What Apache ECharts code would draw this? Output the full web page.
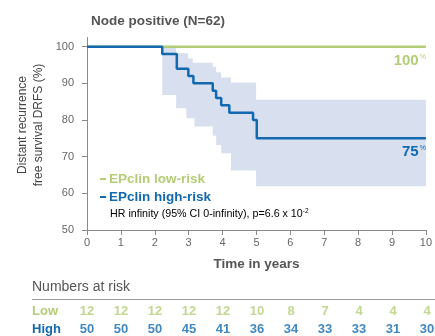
<!DOCTYPE html>
<html>
<head>
<meta charset="utf-8">
<script src="https://cdn.jsdelivr.net/npm/echarts@6/dist/echarts.min.js"></script>
<style>
  html, body { margin: 0; padding: 0; background: #fff; }
  #chart { width: 435px; height: 336px; }
</style>
</head>
<body>
<div id="chart"></div>
<script>
// Kaplan-Meier estimates, node positive cohort
const highRiskTimes = [0, 2.22, 2.65, 2.99, 3.14, 3.71, 3.81, 3.96, 4.2, 4.9, 5.01, 10];
const highRisk = [100, 98, 94, 92, 90, 88, 86, 84, 82, 80, 75, 75];
const lowRiskTimes = [0, 10];
const lowRisk = [100, 100];

// 95% confidence band of the high-risk curve
const ciUpperTimes = [2.22, 2.63, 2.98, 3.12, 3.71, 3.81, 3.96, 4.25, 4.99, 10];
const ciUpper = [100, 98.2, 96.8, 95.6, 94.5, 93, 91.6, 90.2, 85.5, 85.5];
const ciLowerTimes = [2.22, 2.63, 2.93, 3.17, 3.71, 3.81, 3.96, 4.25, 4.99, 10];
const ciLower = [86.8, 83.2, 80.5, 78.2, 75.7, 73.2, 70.9, 66.2, 61.9, 61.9];

// Numbers at risk table
const riskYears = [0, 1, 2, 3, 4, 5, 6, 7, 8, 9, 10];
const lowAtRisk = [12, 12, 12, 12, 12, 10, 8, 7, 4, 4, 4];
const highAtRisk = [50, 50, 50, 45, 41, 36, 34, 33, 33, 31, 30];
const riskRows = ['Low', 'High'];

const yTicks = [50, 60, 70, 80, 90, 100];

const GREEN = '#b3cd76';
const BLUE = '#1269b0';
const BAND = '#d8dfee';
const GREY = '#555';
const AXIS = '#8a8a8a';
const FONT = '"Liberation Sans", Arial, sans-serif';

function zip(xs, ys) { return xs.map((x, i) => [x, ys[i]]); }

// percentage printed under the right end of a curve
function endLabel(color) {
  return {
    show: true,
    distance: 0,
    align: 'right',
    verticalAlign: 'middle',
    offset: [0, 14],
    formatter: p => '{v|' + p.value[1] + '}{p|%}',
    rich: {
      v: { fontFamily: FONT, fontSize: 15, fontWeight: 'bold', color: color },
      p: { fontFamily: FONT, fontSize: 7, color: color, verticalAlign: 'top', padding: [0, 0, 6, 1] }
    }
  };
}

function bandItem(params, api) {
  const pts = [];
  for (let i = 0; i < ciUpperTimes.length; i++) {
    pts.push(api.coord([ciUpperTimes[i], ciUpper[i]]));
    if (i < ciUpperTimes.length - 1) pts.push(api.coord([ciUpperTimes[i + 1], ciUpper[i]]));
  }
  for (let i = ciLowerTimes.length - 1; i >= 0; i--) {
    pts.push(api.coord([ciLowerTimes[i], ciLower[i]]));
    if (i > 0) pts.push(api.coord([ciLowerTimes[i], ciLower[i - 1]]));
  }
  return { type: 'polygon', shape: { points: pts }, style: { fill: BAND } };
}

const chart = echarts.init(document.getElementById('chart'), null, { renderer: 'canvas' });

chart.setOption({
  animation: false,
  backgroundColor: '#fff',
  textStyle: { fontFamily: FONT },
  title: {
    text: 'Node positive (N=62)',
    left: 86, top: 9,
    textStyle: { fontFamily: FONT, fontSize: 13.5, fontWeight: 'bold', color: GREY }
  },
  legend: {
    orient: 'vertical',
    left: 95, top: 167,
    itemWidth: 6, itemHeight: 2, itemGap: 4,
    icon: 'rect',
    selectedMode: false,
    data: [
      { name: 'EPclin low-risk', textStyle: { color: GREEN } },
      { name: 'EPclin high-risk', textStyle: { color: BLUE } }
    ],
    textStyle: { fontFamily: FONT, fontSize: 13.5, fontWeight: 'bold', padding: [0, 0, 0, -2] }
  },
  grid: [
    { left: 87, right: 8, top: 37.5, bottom: 106 },
    { left: 87, right: 8, top: 311.7, height: 17.3 }
  ],
  xAxis: [
    {
      gridIndex: 0, type: 'value', min: 0, max: 10, interval: 1,
      name: 'Time in years', nameLocation: 'middle', nameGap: 27,
      nameTextStyle: { fontFamily: FONT, fontSize: 13.5, fontWeight: 'bold', color: GREY },
      axisLine: { lineStyle: { color: AXIS, width: 1 } },
      axisTick: { length: 5, lineStyle: { color: AXIS } },
      axisLabel: { margin: 7, fontSize: 11, color: '#666', fontFamily: FONT },
      splitLine: { show: false }
    },
    { gridIndex: 1, type: 'value', min: 0, max: 10, show: false }
  ],
  yAxis: [
    {
      gridIndex: 0, type: 'value', min: 50, max: 102.5,
      axisLine: { show: true, lineStyle: { color: AXIS, width: 1 } },
      axisTick: { show: true, length: 5, customValues: yTicks, lineStyle: { color: AXIS } },
      axisLabel: { margin: 13, fontSize: 11, color: '#666', fontFamily: FONT, customValues: yTicks },
      splitLine: { show: false }
    },
    {
      gridIndex: 1, type: 'category', data: riskRows, inverse: true, boundaryGap: false,
      axisLine: { show: false }, axisTick: { show: false },
      axisLabel: {
        align: 'left', margin: 55,
        formatter: v => v === 'Low' ? '{low|Low}' : '{high|High}',
        rich: {
          low: { fontFamily: FONT, fontSize: 13, fontWeight: 'bold', color: GREEN },
          high: { fontFamily: FONT, fontSize: 13, fontWeight: 'bold', color: BLUE }
        }
      }
    }
  ],
  graphic: [
    {
      type: 'text', x: 30.5, y: 125, rotation: Math.PI / 2,
      style: {
        text: 'Distant recurrence\nfree survival DRFS (%)',
        fontFamily: FONT, fontSize: 12, fill: '#444', lineHeight: 16,
        align: 'center', verticalAlign: 'middle'
      }
    },
    {
      type: 'text', x: 32, y: 287,
      style: { text: 'Numbers at risk', fontFamily: FONT, fontSize: 14, fill: GREY, verticalAlign: 'middle' }
    },
    {
      type: 'line', shape: { x1: 32, y1: 299.5, x2: 435, y2: 299.5 },
      style: { stroke: '#999', lineWidth: 1.2 }
    },
    {
      type: 'text', left: 110, top: 208,
      style: {
        text: '{t|HR infinity (95% CI 0-infinity), p=6.6 x 10}{s|-2}',
        rich: {
          t: { fontFamily: FONT, fontSize: 10.7, color: '#5e5e5e' },
          s: { fontFamily: FONT, fontSize: 6.5, color: '#5e5e5e', verticalAlign: 'top', padding: [0, 0, 5, 0] }
        }
      }
    }
  ],
  series: [
    {
      type: 'custom', name: 'CI', xAxisIndex: 0, yAxisIndex: 0,
      renderItem: bandItem, data: [[0, 100]], silent: true, z: 1
    },
    {
      type: 'line', name: 'EPclin low-risk', xAxisIndex: 0, yAxisIndex: 0,
      data: zip(lowRiskTimes, lowRisk), step: 'end', showSymbol: false, symbol: 'none',
      lineStyle: { color: GREEN, width: 2.5 }, itemStyle: { color: GREEN }, z: 2,
      endLabel: endLabel(GREEN)
    },
    {
      type: 'line', name: 'EPclin high-risk', xAxisIndex: 0, yAxisIndex: 0,
      data: zip(highRiskTimes, highRisk), step: 'end', showSymbol: false, symbol: 'none',
      lineStyle: { color: BLUE, width: 2.5 }, itemStyle: { color: BLUE }, z: 3,
      endLabel: endLabel(BLUE)
    },
    {
      type: 'scatter', name: 'Low at risk', xAxisIndex: 1, yAxisIndex: 1,
      data: riskYears.map((t, i) => [t, 'Low', lowAtRisk[i]]),
      symbolSize: 1, itemStyle: { color: 'transparent' },
      label: {
        show: true, position: 'inside', formatter: p => p.value[2],
        fontFamily: FONT, fontSize: 13, fontWeight: 'bold', color: GREEN
      }
    },
    {
      type: 'scatter', name: 'High at risk', xAxisIndex: 1, yAxisIndex: 1,
      data: riskYears.map((t, i) => [t, 'High', highAtRisk[i]]),
      symbolSize: 1, itemStyle: { color: 'transparent' },
      label: {
        show: true, position: 'inside', formatter: p => p.value[2],
        fontFamily: FONT, fontSize: 13, fontWeight: 'bold', color: BLUE
      }
    }
  ]
});
</script>
</body>
</html>
